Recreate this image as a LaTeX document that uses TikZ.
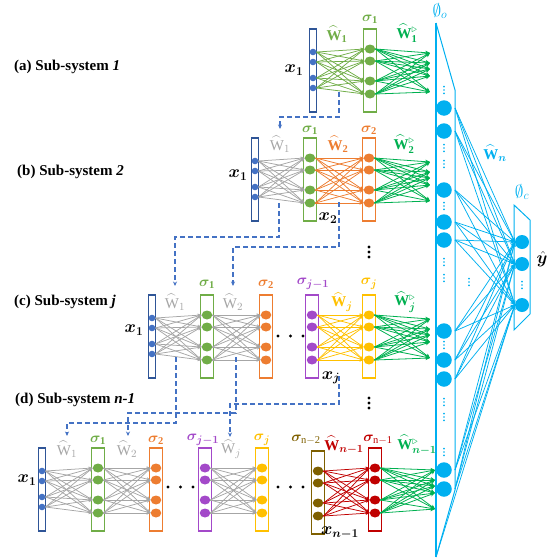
\documentclass[tikz,border=0pt]{standalone}
\usepackage{fontspec}
\setmainfont{Liberation Serif}
\usepackage{amsmath,amssymb,bm}
\usetikzlibrary{arrows.meta,shapes.geometric}
\definecolor{cBlueD}{HTML}{2F5597}
\definecolor{cBlue}{HTML}{4472C4}
\definecolor{cGreenL}{HTML}{70AD47}
\definecolor{cGreen}{HTML}{00B050}
\definecolor{cGray}{HTML}{A6A6A6}
\definecolor{cOrange}{HTML}{ED7D31}
\definecolor{cPurple}{HTML}{A349C9}
\definecolor{cYellow}{HTML}{FFC000}
\definecolor{cBrown}{HTML}{7F6000}
\definecolor{cRed}{HTML}{C00000}
\definecolor{cCyan}{HTML}{00B0F0}
\tikzset{
  icirc/.style={circle, fill=cBlue, inner sep=0pt, minimum size=6.6pt},
  hcirc/.style={ellipse, inner sep=0pt, minimum width=10.5pt, minimum height=9pt},
  ocirc/.style={circle, fill=cCyan, inner sep=0pt, minimum size=15.5pt},
  ccirc/.style={circle, fill=cCyan, inner sep=0pt, minimum size=14pt},
  wline/.style={line width=0.75pt, -{Stealth[length=4pt,width=3.4pt]}},
  oline/.style={cGreen, line width=0.8pt, -{Stealth[length=4.5pt,width=4pt]}},
  nline/.style={cCyan, line width=0.75pt, -{Stealth[length=4.5pt,width=4pt]}},
  dline/.style={cBlue, line width=1.1pt, dash pattern=on 5pt off 3pt, -{Stealth[length=4.5pt,width=4pt]}},
  lbl/.style={font=\fontsize{15}{15}\selectfont, inner sep=0pt},
  xlbl/.style={font=\fontsize{17}{17}\selectfont, inner sep=0pt},
  sublbl/.style={font=\bfseries\fontsize{15}{15}\selectfont, inner sep=0pt, anchor=west},
  frameline/.style={cCyan, line width=1pt},
}
% input layer: name, x, top
\newcommand{\ilayer}[3]{%
  \draw[cBlueD, line width=1.1pt] (#2-3.8,#3) rectangle (#2+3.8,#3+83);
  \foreach \k/\dy in {1/23,2/33,3/49,4/59} {\node[icirc] (#1-\k) at (#2,#3+\dy) {};}
}
% hidden layer: name, x, top, colour
\newcommand{\hlayer}[4]{%
  \draw[#4, line width=1.1pt] (#2-6.6,#3) rectangle (#2+6.6,#3+83);
  \foreach \k/\dy in {1/20,2/32,3/52,4/65} {\node[hcirc, fill=#4] (#1-\k) at (#2,#3+\dy) {};}
}
% weight bundle: src, tgt, colour
\newcommand{\wbundle}[3]{%
  \foreach \i in {1,...,4} {\foreach \j in {1,...,4}
    {\draw[wline, #3] (#1-\i.east) -- (#2-\j.west);}}
}
% output bundle: src, top, end x
\newcommand{\obundle}[3]{%
  \foreach \t/\dy in {1/24,2/34,3/40,4/47,5/63} {\coordinate (#1-t\t) at (#3,#2+\dy);}
  \foreach \i in {1,...,4} {\foreach \t in {1,...,5}
    {\draw[oline] (#1-\i.east) -- (#1-t\t);}}
}
% vertical dots: x, y, colour, radius, spacing
\newcommand{\vdts}[5]{%
  \foreach \q in {-1,0,1} {\fill[#3] (#1,#2+\q*#5) circle (#4);}
}
% horizontal dots: x, y
\newcommand{\hdts}[2]{%
  \foreach \q in {0,1,2} {\fill[black] (#1+\q*12.5,#2) circle (1.7);}
}
\begin{document}
\begin{tikzpicture}[x=1pt,y=-1pt]
\useasboundingbox (0,0) rectangle (558,560);

% ---------- output column frame (phi_o) ----------
\draw[frameline, line width=1.4pt] (436,23) -- (436,557);
\draw[frameline] (436,23) -- (455,90) -- (455,490) -- (436,557);
\coordinate (obot) at (436,557);
\foreach \k/\y in {1/108,2/131,3/190,4/222,5/240,6/331,7/360,8/379,9/470,10/489} {
  \node[ocirc] (o\k) at (444,\y) {};
  \coordinate (oR\k) at (455,\y);
}
\foreach \y in {90,148,164,206,262,278,345,402,417,452} {\vdts{444}{\y}{cCyan}{0.95}{3.4}}
\vdts{469}{282}{cCyan}{0.95}{3.4}

% ---------- phi_c ----------
\draw[frameline] (514,205) -- (530,220) -- (530,314) -- (514,330) -- cycle;
\node[ccirc] (p1) at (522,242) {};
\node[ccirc] (p2) at (522,264) {};
\node[ccirc] (p3) at (522,305) {};
\vdts{522}{285}{cCyan}{0.95}{3.4}
\foreach \k in {1,...,10} {\foreach \m in {1,2,3}
  {\draw[nline] (oR\k) -- (p\m.west);}}
\draw[nline] (obot) -- (p3.west);

\node[lbl, text=cCyan, font=\fontsize{17}{17}\selectfont] (lo) at (440,11) {$\emptyset_o$};
\node[lbl, text=cCyan, font=\fontsize{17}{17}\selectfont] (lc) at (522,192) {$\emptyset_c$};
\node[lbl, text=cCyan] (lwn) at (495,153) {$\widehat{\mathbf{W}}_{\boldsymbol{n}}$};
\node[xlbl] (ly) at (542,259) {$\hat{\boldsymbol{y}}$};

% ---------- sub-system labels ----------
\node[sublbl] (sa) at (14,67) {(a) Sub-system \textit{1}};
\node[sublbl] (sb) at (17,172) {(b) Sub-system \textit{2}};
\node[sublbl] (sc) at (14,302) {(c) Sub-system \textit{j}};
\node[sublbl] (sd) at (15,400) {(d) Sub-system \textit{n-1}};

% ---------- row (a) ----------
\ilayer{a0}{313}{29}
\hlayer{a1}{370}{29}{cGreenL}
\wbundle{a0}{a1}{cGreenL}
\obundle{a1}{29}{430}
\node[xlbl] (ax) at (294,70) {$\boldsymbol{x_1}$};
\node[lbl, text=cGreenL] (aw1) at (337,34) {$\widehat{\mathbf{W}}_{\mathbf{1}}$};
\node[lbl, text=cGreenL] (as1) at (370,19) {$\boldsymbol{\sigma}_{\mathbf{1}}$};
\node[lbl, text=cGreen] (ao) at (407,33) {$\widehat{\mathbf{W}}^{\triangleright}_{\mathbf{1}}$};

% ---------- row (b) ----------
\ilayer{b0}{255}{138}
\hlayer{b1}{310}{138}{cGreenL}
\hlayer{b2}{369}{138}{cOrange}
\wbundle{b0}{b1}{cGray}
\wbundle{b1}{b2}{cOrange}
\obundle{b2}{138}{430}
\node[xlbl] (bx) at (238,175) {$\boldsymbol{x_1}$};
\node[xlbl] (bx2) at (328,218) {$\boldsymbol{x_2}$};
\node[lbl, text=cGray] (bw1) at (280,144) {$\widehat{\mathrm{W}}_1$};
\node[lbl, text=cGreenL] (bs1) at (310,130) {$\boldsymbol{\sigma}_{\mathbf{1}}$};
\node[lbl, text=cOrange] (bw2) at (338,144) {$\widehat{\mathbf{W}}_{\mathbf{2}}$};
\node[lbl, text=cOrange] (bs2) at (369,130) {$\boldsymbol{\sigma}_{\mathbf{2}}$};
\node[lbl, text=cGreen] (bo) at (404,144) {$\widehat{\mathbf{W}}^{\triangleright}_{\mathbf{2}}$};

% ---------- row (c) ----------
\ilayer{c0}{152}{295}
\hlayer{c1}{207}{295}{cGreenL}
\hlayer{c2}{266}{295}{cOrange}
\hlayer{cq}{312}{295}{cPurple}
\hlayer{cj}{369}{295}{cYellow}
\wbundle{c0}{c1}{cGray}
\wbundle{c1}{c2}{cGray}
\wbundle{cq}{cj}{cYellow}
\obundle{cj}{295}{430}
\hdts{278}{336}
\node[xlbl] (cx) at (134,330) {$\boldsymbol{x_1}$};
\node[xlbl] (cxj) at (331,378) {$\boldsymbol{x_j}$};
\node[lbl, text=cGray] (cw1) at (175,302) {$\widehat{\mathrm{W}}_1$};
\node[lbl, text=cGreenL] (cs1) at (207,284) {$\boldsymbol{\sigma}_{\mathbf{1}}$};
\node[lbl, text=cGray] (cw2) at (233,302) {$\widehat{\mathrm{W}}_2$};
\node[lbl, text=cOrange] (cs2) at (266,284) {$\boldsymbol{\sigma}_{\mathbf{2}}$};
\node[lbl, text=cPurple] (csq) at (313,284) {$\boldsymbol{\sigma_{j-1}}$};
\node[lbl, text=cYellow] (cwj) at (342,302) {$\widehat{\mathbf{W}}_{\boldsymbol{j}}$};
\node[lbl, text=cYellow] (csj) at (369,284) {$\boldsymbol{\sigma_{j}}$};
\node[lbl, text=cGreen] (co) at (405,302) {$\widehat{\mathbf{W}}^{\triangleright}_{\boldsymbol{j}}$};

% ---------- row (d) ----------
\ilayer{d0}{42}{448}
\hlayer{d1}{98}{448}{cGreenL}
\hlayer{d2}{156}{448}{cOrange}
\hlayer{dq}{205}{448}{cPurple}
\hlayer{dj}{262}{448}{cYellow}
\hlayer{dm}{318}{451}{cBrown}
\hlayer{dn}{375}{448}{cRed}
\wbundle{d0}{d1}{cGray}
\wbundle{d1}{d2}{cGray}
\wbundle{dq}{dj}{cGray}
\wbundle{dm}{dn}{cRed}
\obundle{dn}{446}{435}
\hdts{168}{487}
\hdts{278}{487}
\node[xlbl] (dx) at (27,480) {$\boldsymbol{x_1}$};
\node[xlbl] (dxn) at (340,533) {$\boldsymbol{x_{n-1}}$};
\node[lbl, text=cGray] (dw1) at (67,449) {$\widehat{\mathrm{W}}_1$};
\node[lbl, text=cGreenL] (ds1) at (98,440) {$\boldsymbol{\sigma}_{\mathbf{1}}$};
\node[lbl, text=cGray] (dw2) at (127,449) {$\widehat{\mathrm{W}}_2$};
\node[lbl, text=cOrange] (ds2) at (156,440) {$\boldsymbol{\sigma}_{\mathbf{2}}$};
\node[lbl, text=cPurple] (dsq) at (203,440) {$\boldsymbol{\sigma_{j-1}}$};
\node[lbl, text=cGray] (dwj) at (231,449) {$\widehat{\mathrm{W}}_j$};
\node[lbl, text=cYellow] (dsj) at (262,440) {$\boldsymbol{\sigma_{j}}$};
\node[lbl, text=cBrown] (dsm) at (306,440) {$\boldsymbol{\sigma}_{\mathrm{n-2}}$};
\node[lbl, text=cRed] (dwn) at (344,445) {$\widehat{\mathbf{W}}_{\boldsymbol{n-1}}$};
\node[lbl, text=cRed] (dsn) at (378,440) {$\boldsymbol{\sigma}_{\mathrm{n-1}}$};
\node[lbl, text=cGreen] (do) at (417,445) {$\widehat{\mathbf{W}}^{\triangleright}_{\boldsymbol{n-1}}$};

% ---------- black vertical dots ----------
\vdts{369}{252}{black}{1.7}{5}
\vdts{369}{403}{black}{1.7}{5}

% ---------- dashed reuse connectors ----------
\coordinate (q1s) at (339,92);  \coordinate (q1m) at (339,117); \coordinate (q1e) at (280,129);
\coordinate (q2s) at (279,203); \coordinate (q2m) at (279,237); \coordinate (q2e) at (175,286);
\coordinate (q3s) at (339,202); \coordinate (q3m) at (339,247); \coordinate (q3e) at (233,286);
\coordinate (q4s) at (176,357); \coordinate (q4m) at (176,423); \coordinate (q4e) at (67,436);
\coordinate (q5s) at (236,357); \coordinate (q5m) at (236,413); \coordinate (q5e) at (128,436);
\coordinate (q6s) at (339,376); \coordinate (q6m) at (339,404); \coordinate (q6e) at (230,437);
\foreach \n in {1,...,6} {\draw[dline] (q\n s) -- (q\n m) -| (q\n e);}
\end{tikzpicture}
\end{document}
